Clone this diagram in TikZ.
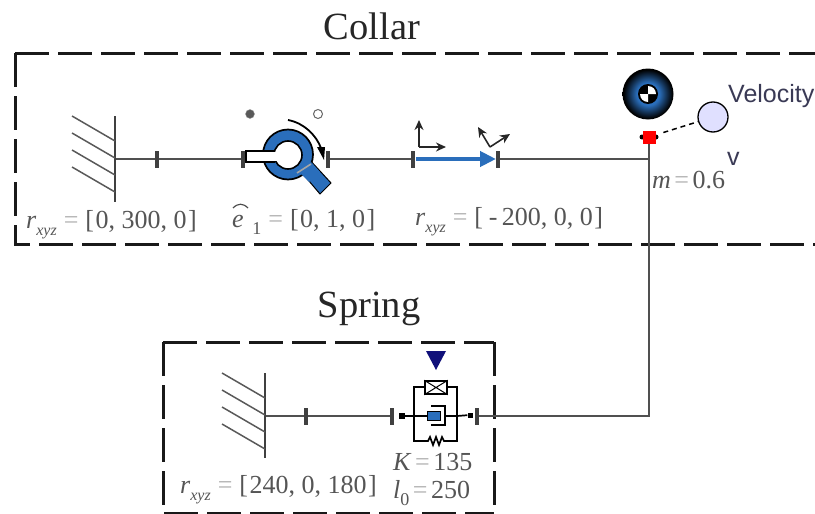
\documentclass[tikz,border=0pt]{standalone}
\usepackage{fontspec}
\setmainfont{Liberation Serif}
\setsansfont{Liberation Sans}
\usetikzlibrary{arrows.meta}
\definecolor{txt}{HTML}{555555}
\definecolor{eqc}{HTML}{B0B0B0}
\definecolor{ln}{HTML}{505050}
\definecolor{blu}{HTML}{2A6EBB}
\definecolor{navy2}{HTML}{10107A}
\definecolor{veltxt}{HTML}{3A3A55}
\pgfdeclareradialshading{bodysh}{\pgfpointorigin}{color(0bp)=(blu); color(11bp)=(blu); color(18bp)=(blu!45!black); color(24bp)=(black); color(50bp)=(black)}
\newcommand{\Eq}{\textcolor{eqc}{\hspace{7pt}=\hspace{7pt}}}
\newcommand{\EqS}{\textcolor{eqc}{\hspace{3.5pt}=\hspace{3.5pt}}}
\newcommand{\Lb}{[\hspace{1.5pt}}
\newcommand{\Rb}{\hspace{1.5pt}]}
\newcommand{\Rx}{\textit{r}\raisebox{-0.28em}{\fontsize{16}{16}\selectfont\textit{xyz}}}
\tikzset{
  x=1pt,y=-1pt,
  title/.style={inner sep=0pt,font=\fontsize{38.5}{38.5}\selectfont,text=black!85},
  lab/.style={inner sep=0pt,anchor=base west,font=\fontsize{26}{26}\selectfont,text=txt},
  vel/.style={inner sep=0pt,anchor=base west,font=\sffamily\fontsize{25}{25}\selectfont,text=veltxt},
  dashbox/.style={draw=black!90,line width=3pt,dash pattern=on 34pt off 9pt},
  conn/.style={draw=ln,line width=1.9pt},
  tick/.style={draw=none,fill=black!75,minimum width=4pt,minimum height=17pt,inner sep=0pt},
  wallline/.style={draw=black!75,line width=1.7pt},
  hatch/.style={draw=black!65,line width=1.5pt},
  frameax/.style={draw=black!85,line width=1.6pt,-{Stealth[length=10pt,width=9pt]}},
  elem/.style={draw=black,line width=1.7pt},
  anchorpt/.style={fill=black,draw=none,minimum size=6pt,inner sep=0pt},
}
\begin{document}
\begin{tikzpicture}
\useasboundingbox (0,0) rectangle (815,514);
% boxes
\draw[dashbox] (15,53) -- (815,53);
\draw[dashbox] (15,53) -- (15,244) -- (815,244);
\draw[dashbox] (163,342) -- (494,342);
\draw[dashbox] (163,342) -- (163,513) -- (494,513);
\draw[dashbox] (494,342) -- (494,513);
\node[title] (collar) at (372,26) {Collar};
\node[title] (spring) at (369,309) {Spring};

% nodes on the collar line
\coordinate (w1) at (115,159);
\node[tick] (t1) at (157,159) {};
\node[tick] (t2) at (243,159) {};
\node[tick] (t3) at (328,159) {};
\node[tick] (t4) at (413,159) {};
\node[tick] (t5) at (498,159) {};
\coordinate (j) at (649,159);
\fill[black] (642,137) circle (2.5) (656,137) circle (2.5);
\node[fill=red,minimum size=13pt,inner sep=0pt] (mass) at (649,137) {};
\coordinate (c) at (649,416);
% nodes on the spring line
\coordinate (w2) at (265,416);
\node[tick] (t6) at (306,416) {};
\node[tick] (t7) at (392,416) {};
\node[tick] (t8) at (477,416) {};

\draw[conn] (w1) -- (t1) -- (t2);
\draw[conn] (t3) -- (t4);
\draw[conn] (t5) -- (j);
\draw[conn] (mass) -- (c) -- (t8);
\draw[conn] (w2) -- (t6) -- (t7);

% walls
\draw[wallline] (115,116) -- (115,202);
\foreach \y in {116,133,150,167} \draw[hatch] (72,\y) -- (115,\y+25);
\draw[wallline] (265,373) -- (265,458);
\foreach \y in {373,390,407,424} \draw[hatch] (222,\y) -- (265,\y+25);

% revolute
\node[circle,fill=black!65,draw=black!40,minimum size=9pt,inner sep=0pt] (d1) at (250,114) {};
\node[circle,fill=white,draw=black!60,line width=1pt,minimum size=9pt,inner sep=0pt] (d2) at (318,114) {};
\draw[black,line width=1pt,fill=blu] (298,168) -- (308,158) -- (331,183) -- (320,194) -- cycle;
\node[circle,draw=black,line width=1.7pt,fill=blu,minimum size=50pt,inner sep=0pt] (ring) at (288,154.5) {};
\fill[blu] (299,172) -- (311,162) -- (320,172) -- (309,182) -- cycle;
\node[circle,draw=black,line width=1.6pt,fill=white,minimum size=28pt,inner sep=0pt] (hole) at (288,155) {};
\draw[black!35,line width=1.6pt] (297,173) -- (311,164);
\draw[black,line width=1.2pt,fill=white] (275,151) -- (246,151) -- (246,162) -- (275,162);
\fill[white] (274,151.7) rectangle (281,161.3);
\draw[black,line width=1.8pt] (288,120) .. controls (304,123) and (316,135) .. (321,148);
\fill[black] (317,147) -- (325,147) -- (324,160) -- cycle;

% prismatic
\draw[frameax] (419,147) -- (419,120);
\draw[frameax] (419,147) -- (446,147);
\draw[frameax] (490,147) -- (478,127);
\draw[frameax] (490,147) -- (510,134);
\draw[draw=blu,line width=4pt,-{Triangle[length=16pt,width=15pt,fill=blu]}] (416,159) -- (496,159);

% body
\node[circle,minimum size=51pt,inner sep=0pt,shading=bodysh] (body) at (648,94) {};
\fill[black] (648,94) circle (10);
\fill[white] (648,94) -- (656,94) arc[start angle=0,end angle=-90,radius=8,y=-1pt] -- cycle;
\fill[white] (648,94) -- (640,94) arc[start angle=180,end angle=90,radius=8,y=-1pt] -- cycle;

% velocity sensor
\node[circle,draw=black,line width=1.3pt,fill=blue!12,minimum size=30pt,inner sep=0pt] (velc) at (713,117) {};
\draw[black,line width=1.5pt,dash pattern=on 5pt off 4pt,shorten <=8pt] (mass) -- (velc);
\node[vel] (vtxt) at (728,102) {Velocity};
\node[vel] (vv) at (727,165) {v};
\node[lab] (m) at (652,188) {\textit{m}\EqS 0.6};

% spring element
\fill[navy2] (426,351) -- (446,351) -- (436,370) -- cycle;
\coordinate (eL) at (414,416);
\coordinate (eR) at (457,416);
\node[anchorpt] (aL) at (402,416) {};
\node[anchorpt,minimum size=5pt] (aR) at (470,415) {};
\draw[elem] (aL) -- (eL);
\draw[elem] (eR) -- (aR);
\draw[elem] (436,387) -- (414,387) -- (414,441) -- (425,441);
\draw[elem] (436,387) -- (457,387) -- (457,441) -- (447,441);
\node[draw=black,line width=1.5pt,fill=white,minimum width=22pt,minimum height=13pt,inner sep=0pt] (fr) at (436,387.5) {};
\draw[black,line width=1pt] (fr.south west) -- (fr.north east) (fr.north west) -- (fr.south east);
\draw[elem] (425,441) -- (428,441) -- (430,437) -- (433,445) -- (436,437) -- (439,445) -- (442,437) -- (444,441) -- (447,441);
\draw[elem] (eL) -- (427,416);
\node[draw=black,line width=1pt,fill=blu,minimum width=13pt,minimum height=9pt,inner sep=0pt] (piston) at (433.5,416) {};
\draw[elem] (431,406) -- (445,406) -- (445,425) -- (431,425);
\draw[elem] (445,416) -- (eR);

% labels
\node[lab] (l1) at (26,228) {\Rx\Eq\Lb 0, 300, 0\Rb};
\node[lab] (l2) at (232,227) {\textit{e}\,\,\raisebox{-0.28em}{\fontsize{18}{18}\selectfont 1}\Eq\Lb 0, 1, 0\Rb};
\draw[black!70,line width=1.2pt] (233,208) .. controls (238,203) and (243,203) .. (248,208);
\node[lab] (l3) at (415,225) {\Rx\Eq\Lb\,-\,200, 0, 0\Rb};
\node[lab] (l4) at (180,493) {\Rx\Eq\Lb 240, 0, 180\Rb};
\node[lab] (l5) at (393,470) {\textit{K}\EqS 135};
\node[lab] (l6) at (393,498) {\textit{l}\raisebox{-0.28em}{\fontsize{18}{18}\selectfont 0}\EqS 250};
\end{tikzpicture}
\end{document}
